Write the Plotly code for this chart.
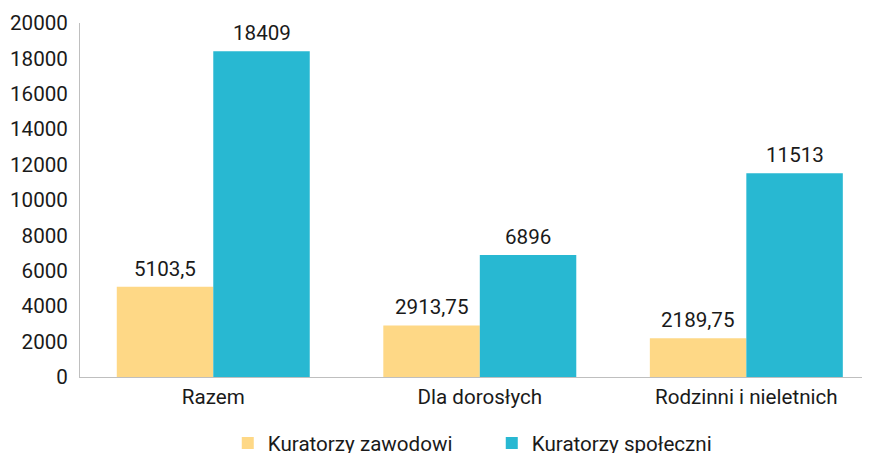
import plotly.graph_objects as go

categories = ["Razem", "Dla dorosłych", "Rodzinni i nieletnich"]
zawodowi = [5103.5, 2913.75, 2189.75]
spoleczni = [18409, 6896, 11513]
series_names = ["Kuratorzy zawodowi", "Kuratorzy społeczni"]
colors = ["#FED886", "#28B8D2"]

def fmt(v):
    s = ("%g" % v)
    return s.replace(".", ",")

font = dict(family="Roboto", size=20.6, color="#1a1a1a")

fig = go.Figure()
for name, vals, col in zip(series_names, [zawodowi, spoleczni], colors):
    fig.add_trace(go.Bar(
        x=categories, y=vals, name=name, marker=dict(color=col, line=dict(width=0)),
        hoverinfo="x+y",
    ))

bar_px = 96.5
for vals, sh in zip([zawodowi, spoleczni], [-bar_px / 2, bar_px / 2]):
    for c, v in zip(categories, vals):
        fig.add_annotation(x=c, y=v, text=fmt(v), showarrow=False, xshift=sh,
                           yanchor="bottom", yshift=4, font=font)

fig.update_layout(
    width=870, height=453,
    margin=dict(l=72, r=0, t=15, b=84, autoexpand=False),
    paper_bgcolor="white", plot_bgcolor="white",
    barmode="group", bargap=0.276, bargroupgap=0,
    font=font,
    legend=dict(orientation="h", x=0.516, xanchor="center", y=-0.130, yanchor="top",
                font=font, entrywidth=219, traceorder="normal"),
    xaxis=dict(range=[-0.5, 2.494], showline=True, linecolor="#bfbfbf", linewidth=1,
               ticks="", tickfont=font, ticklabelstandoff=1, showgrid=False,
               automargin=False),
    yaxis=dict(range=[0, 20000], dtick=2000, tickformat="d", showline=True,
               linecolor="#bfbfbf", linewidth=1, ticks="", showgrid=False,
               zeroline=False, tickfont=font, ticklabelstandoff=7, automargin=False),
)
fig.write_html("out.html")
